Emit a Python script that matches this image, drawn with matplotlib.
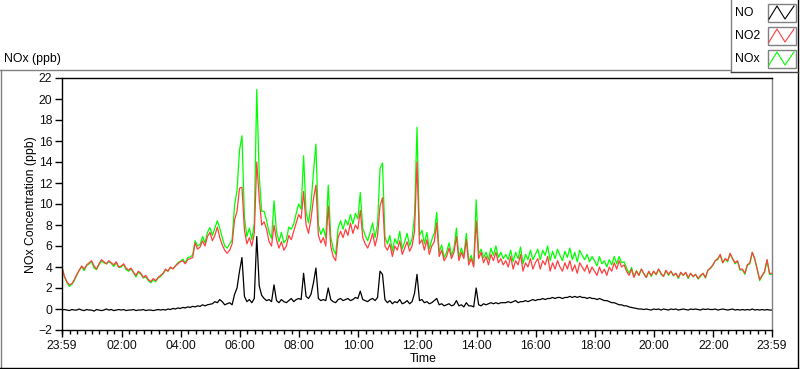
import matplotlib
matplotlib.use('Agg')
import matplotlib.pyplot as plt
import numpy as np
from matplotlib.lines import Line2D
from matplotlib.patches import Rectangle
from matplotlib.ticker import MultipleLocator

plt.rcParams['font.family'] = ['Liberation Sans', 'DejaVu Sans']

# ---- data: 5-minute readings (ppb), 23:59 -> 23:59, one row per hour ----
no2 = [
    4.0, 3.1, 2.6, 2.3, 2.4, 2.8, 3.3, 3.7, 4.1, 3.8, 4.2, 4.4,
    4.6, 4.1, 3.8, 4.3, 4.7, 4.5, 4.3, 4.6, 4.4, 4.2, 4.5, 4.0,
    4.1, 4.3, 3.9, 3.7, 3.9, 3.5, 3.2, 3.6, 3.4, 3.0, 3.2, 2.8,
    2.6, 2.9, 2.7, 3.0, 3.2, 3.4, 3.8, 3.6, 4.0, 3.8, 4.1, 4.3,
    4.5, 4.6, 4.3, 4.7, 4.8, 4.9, 6.3, 5.7, 5.9, 6.5, 6.0, 6.9,
    7.3, 6.5, 7.0, 7.8, 6.8, 6.1, 5.6, 5.3, 5.6, 6.2, 8.5, 9.3,
    11.5, 11.6, 7.5, 6.2, 6.8, 6.0, 7.2, 14.0, 10.5, 8.0, 8.3, 7.6,
    6.4, 6.0, 8.0, 6.6, 5.8, 6.4, 5.6, 6.0, 7.0, 6.6, 7.4, 8.2,
    9.0, 8.6, 11.2, 8.0, 7.2, 8.6, 10.5, 11.8, 7.0, 6.3, 6.8, 6.0,
    9.8, 6.0, 5.0, 4.6, 6.8, 7.4, 6.8, 7.6, 7.0, 8.2, 7.2, 8.0,
    7.6, 9.4, 6.8, 6.2, 5.8, 6.4, 7.2, 6.0, 7.0, 9.8, 10.6, 6.0,
    5.6, 6.2, 5.0, 6.0, 5.6, 6.5, 5.2, 5.8, 6.4, 5.5, 6.0, 7.4,
    14.0, 6.2, 6.6, 5.6, 6.6, 5.2, 6.0, 6.4, 8.2, 5.0, 5.6, 4.6,
    5.0, 5.8, 4.8, 5.4, 6.9, 4.6, 5.4, 4.8, 6.6, 4.2, 4.8, 4.0,
    8.4, 4.8, 5.4, 4.4, 5.0, 4.2, 5.2, 4.6, 5.4, 4.4, 4.8, 4.2,
    4.6, 4.0, 5.0, 3.8, 4.6, 4.2, 5.2, 3.6, 4.4, 4.0, 4.8, 3.8,
    4.4, 4.8, 3.8, 4.6, 4.2, 5.0, 3.6, 4.4, 3.8, 4.6, 4.0, 3.6,
    4.4, 3.8, 4.6, 3.6, 4.2, 3.4, 4.4, 4.0, 3.6, 4.2, 3.4, 4.0,
    3.6, 3.2, 4.0, 3.4, 3.8, 3.2, 4.0, 3.6, 4.4, 3.8, 4.6, 4.0,
    4.2, 3.6, 3.2, 3.8, 3.0, 3.6, 3.2, 3.8, 3.4, 3.0, 3.6, 3.2,
    3.6, 3.3, 3.8, 3.4, 3.1, 3.7, 3.3, 3.6, 3.2, 3.4, 3.0, 3.5,
    3.2, 3.5, 3.0, 3.4, 3.1, 3.3, 2.9, 3.2, 3.4, 3.0, 3.7, 3.9,
    4.2, 4.6, 4.8, 5.2, 4.4, 4.8, 4.6, 5.3, 4.8, 4.4, 4.6, 3.8,
    3.8, 3.4, 4.2, 4.4, 5.4, 4.8, 3.8, 2.8, 3.2, 3.6, 4.7, 3.4,
    3.4,
]

no = [
    -0.1, -0.05, -0.1, -0.15, -0.05, -0.1, -0.1, 0.0, -0.1, -0.15, -0.05, -0.1,
    -0.1, -0.2, -0.05, -0.1, -0.15, -0.1, 0.0, -0.1, -0.05, -0.15, -0.1, -0.05,
    -0.1, -0.05, -0.15, -0.1, -0.1, -0.05, -0.15, -0.1, -0.1, -0.05, -0.15, -0.1,
    -0.1, -0.15, -0.1, -0.05, -0.1, -0.05, -0.1, 0.0, -0.05, 0.05, 0.0, 0.1,
    0.05, 0.15, 0.1, 0.2, 0.15, 0.25, 0.2, 0.3, 0.25, 0.4, 0.3, 0.4,
    0.45, 0.5, 0.7, 0.6, 0.9, 0.7, 0.4, 0.5, 0.6, 0.4, 1.4, 2.0,
    3.6, 4.9, 1.2, 0.7, 0.9, 0.6, 1.0, 6.9, 2.2, 1.3, 1.0, 0.8,
    0.9, 0.7, 2.3, 0.8, 0.6, 0.9, 0.7, 0.6, 0.8, 1.0, 0.7, 0.9,
    1.0, 0.9, 3.4, 1.2, 1.0, 1.4, 2.5, 3.9, 1.0, 0.8, 0.9, 0.8,
    2.0, 0.9, 0.7, 0.6, 0.9, 1.0, 0.8, 0.9, 1.0, 0.8, 0.9, 1.1,
    1.0, 1.7, 0.9, 0.8, 0.7, 0.9, 1.0, 0.8, 1.1, 3.6, 3.3, 0.9,
    0.6, 0.8, 0.5, 0.7, 0.6, 0.9, 0.5, 0.6, 0.8, 0.5, 0.7, 1.5,
    3.3, 0.8, 0.9, 0.6, 0.7, 0.5, 0.6, 0.8, 1.0, 0.4, 0.5, 0.3,
    0.4, 0.5, 0.3, 0.4, 0.8, 0.3, 0.4, 0.2, 0.6, 0.3, 0.3, 0.2,
    2.0, 0.4, 0.3, 0.5, 0.4, 0.5, 0.6, 0.5, 0.6, 0.5, 0.6, 0.6,
    0.6, 0.7, 0.6, 0.7, 0.8, 0.6, 0.7, 0.7, 0.8, 0.7, 0.8, 0.9,
    0.8, 0.9, 0.9, 1.0, 0.9, 1.0, 1.0, 1.1, 1.0, 1.1, 1.1, 1.0,
    1.1, 1.1, 1.2, 1.1, 1.2, 1.1, 1.2, 1.1, 1.1, 1.0, 1.1, 1.0,
    1.0, 0.9, 1.0, 0.9, 0.8, 0.8, 0.7, 0.6, 0.6, 0.5, 0.4, 0.4,
    0.3, 0.3, 0.2, 0.15, 0.1, 0.05, 0.0, 0.0, -0.05, 0.0, -0.05, -0.1,
    0.0, -0.05, 0.0, -0.1, 0.0, -0.05, -0.1, 0.0, -0.05, 0.0, -0.1, -0.05,
    0.0, -0.05, -0.1, 0.0, -0.05, 0.0, -0.05, -0.1, 0.0, -0.05, 0.0, -0.05,
    -0.05, 0.0, -0.1, -0.05, 0.0, -0.05, -0.1, -0.05, 0.0, -0.1, -0.05, -0.1,
    -0.05, -0.1, -0.05, -0.1, 0.0, -0.1, -0.05, -0.1, -0.05, -0.1, -0.05, -0.1,
    -0.1,
]

nox = [
    3.9, 3.05, 2.5, 2.15, 2.35, 2.7, 3.2, 3.7, 4.0, 3.65, 4.15, 4.3,
    4.5, 3.9, 3.75, 4.2, 4.55, 4.4, 4.3, 4.5, 4.35, 4.05, 4.4, 3.95,
    4.0, 4.25, 3.75, 3.6, 3.8, 3.45, 3.05, 3.5, 3.3, 2.95, 3.05, 2.7,
    2.5, 2.75, 2.6, 2.95, 3.1, 3.35, 3.7, 3.6, 3.95, 3.85, 4.1, 4.4,
    4.55, 4.75, 4.4, 4.9, 4.95, 5.15, 6.5, 6.0, 6.15, 6.9, 6.3, 7.3,
    7.75, 7.0, 7.7, 8.4, 7.7, 6.8, 6.0, 5.8, 6.2, 6.6, 9.9, 11.3,
    15.1, 16.5, 8.7, 6.9, 7.7, 6.6, 8.2, 20.9, 12.7, 9.3, 9.3, 8.4,
    7.3, 6.7, 10.3, 7.4, 6.4, 7.3, 6.3, 6.6, 7.8, 7.6, 8.1, 9.1,
    10.0, 9.5, 14.6, 9.2, 8.2, 10.0, 13.0, 15.7, 8.0, 7.1, 7.7, 6.8,
    11.8, 6.9, 5.7, 5.2, 7.7, 8.4, 7.6, 8.5, 8.0, 9.0, 8.1, 9.1,
    8.6, 11.1, 7.7, 7.0, 6.5, 7.3, 8.2, 6.8, 8.1, 13.4, 13.9, 6.9,
    6.2, 7.0, 5.5, 6.7, 6.2, 7.4, 5.7, 6.4, 7.2, 6.0, 6.7, 8.9,
    17.3, 7.0, 7.5, 6.2, 7.3, 5.7, 6.6, 7.2, 9.2, 5.4, 6.1, 4.9,
    5.4, 6.3, 5.1, 5.8, 7.7, 4.9, 5.8, 5.0, 7.2, 4.5, 5.1, 4.2,
    10.4, 5.2, 5.7, 4.9, 5.4, 4.7, 5.8, 5.1, 6.0, 4.9, 5.4, 4.8,
    5.2, 4.7, 5.6, 4.5, 5.4, 4.8, 5.9, 4.3, 5.2, 4.7, 5.6, 4.7,
    5.2, 5.7, 4.7, 5.6, 5.1, 6.0, 4.6, 5.5, 4.8, 5.7, 5.1, 4.6,
    5.5, 4.9, 5.8, 4.7, 5.4, 4.5, 5.6, 5.1, 4.7, 5.2, 4.5, 5.0,
    4.6, 4.1, 5.0, 4.3, 4.6, 4.0, 4.7, 4.2, 5.0, 4.3, 5.0, 4.4,
    4.5, 3.9, 3.4, 3.95, 3.1, 3.65, 3.2, 3.8, 3.35, 3.0, 3.55, 3.1,
    3.6, 3.25, 3.8, 3.3, 3.1, 3.65, 3.2, 3.6, 3.15, 3.4, 2.9, 3.45,
    3.2, 3.45, 2.9, 3.4, 3.05, 3.3, 2.85, 3.1, 3.4, 2.95, 3.7, 3.85,
    4.15, 4.6, 4.7, 5.15, 4.4, 4.75, 4.5, 5.25, 4.8, 4.3, 4.55, 3.7,
    3.75, 3.3, 4.15, 4.3, 5.4, 4.7, 3.75, 2.7, 3.15, 3.5, 4.65, 3.3,
    3.3,
]

series_names = ['NO', 'NO2', 'NOx']
series_colors = ['black', '#ff4040', '#00ff00']
time_labels = ['23:59', '02:00', '04:00', '06:00', '08:00', '10:00', '12:00',
               '14:00', '16:00', '18:00', '20:00', '22:00', '23:59']

# hours since midnight, first reading at 23:59 the day before
t = np.arange(len(no2)) * 5 / 60 - 1 / 60

W, H = 800, 369
FS = 8.8
fig = plt.figure(figsize=(W / 100, H / 100), dpi=100)
fig.patch.set_facecolor('white')

ax = fig.add_axes([62 / W, 1 - 330 / H, 710 / W, 252 / H])
ax.plot(t, nox, color=series_colors[2], lw=0.9)
ax.plot(t, no2, color=series_colors[1], lw=0.9)
ax.plot(t, no, color=series_colors[0], lw=0.9)

ax.set_xlim(-1 / 60, 24 - 1 / 60)
ax.set_ylim(-2, 22)
ax.set_yticks(range(-2, 23, 2))
ax.set_xticks([-1 / 60] + list(range(2, 23, 2)) + [24 - 1 / 60])
ax.set_xticklabels(time_labels)
ax.xaxis.set_minor_locator(MultipleLocator(0.25))
ax.tick_params(which='major', length=5, width=1, labelsize=FS, pad=2,
               labelcolor='#101010')
ax.tick_params(which='minor', length=3, width=1)
ax.tick_params(axis='y', which='minor', left=False)
for s in ['top', 'left', 'bottom']:
    ax.spines[s].set_linewidth(1)
ax.spines['right'].set_color('#808080')
ax.spines['right'].set_linewidth(1)

# labels
fig.text(31.5 / W, 1 - 205 / H, 'NOx Concentration (ppb)', rotation=90,
         ha='center', va='center', fontsize=FS)
fig.text(423 / W, 1 - 359 / H, 'Time', ha='center', va='center', fontsize=FS)
fig.text(4 / W, 1 - 59 / H, 'NOx (ppb)', ha='left', va='center', fontsize=FS)


def fig_line(x0, y0, x1, y1, color):
    fig.add_artist(Line2D([x0 / W, x1 / W], [1 - y0 / H, 1 - y1 / H],
                          transform=fig.transFigure, color=color, lw=1))


# outer panel frame
fig_line(0, 69.5, 730, 69.5, '#808080')
fig_line(0.5, 69.5, 0.5, 367.5, '#808080')
fig_line(0, 367.5, 798, 367.5, 'black')
fig_line(797.5, 0, 797.5, 368, 'black')

# legend box
fig_line(730.5, 0, 730.5, 72, '#808080')
fig_line(730.5, 71.5, 797.5, 71.5, '#404040')
for i, (name, col) in enumerate(zip(series_names, series_colors)):
    yc = 13 + i * 23
    fig.text(735 / W, 1 - yc / H, name, ha='left', va='center', fontsize=FS)
    fig.add_artist(Rectangle((767.5 / W, 1 - (yc + 9) / H), 28 / W, 18 / H,
                             transform=fig.transFigure, facecolor='white',
                             edgecolor='#808080', lw=1))
    zx = [769, 777, 785, 794]
    zy = [yc + 6, yc - 7, yc + 6, yc - 7]
    fig.add_artist(Line2D([x / W for x in zx], [1 - y / H for y in zy],
                          transform=fig.transFigure, color=col, lw=0.8))

fig.savefig('out.png', dpi=100)
